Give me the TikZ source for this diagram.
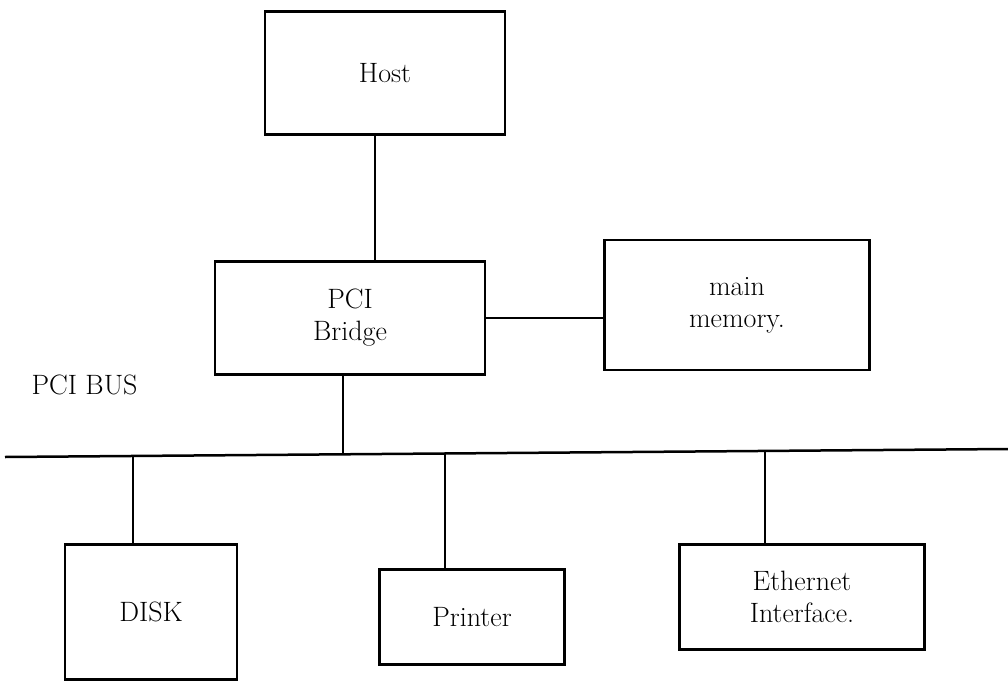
\documentclass[tikz,border=0pt]{standalone}
\begin{document}
\begin{tikzpicture}[x=1pt,y=-1pt,
  box/.style={draw, line width=2.5pt, rectangle, align=center, font=\fontsize{28}{32}\selectfont, inner sep=0pt},
  wire/.style={line width=2.5pt}]
\useasboundingbox (0,0) rectangle (1008,682);
\node[box, minimum width=240, minimum height=123] (host) at (385,73) {Host};
\node[box, minimum width=270, minimum height=113] (bridge) at (350,318) {PCI\\Bridge};
\node[box, minimum width=265, minimum height=130] (mem) at (737,305) {main\\memory.};
\node[box, minimum width=172, minimum height=135] (disk) at (151,612) {DISK};
\node[box, minimum width=185, minimum height=95] (printer) at (472,617) {Printer};
\node[box, minimum width=245, minimum height=105] (eth) at (802,597) {Ethernet\\Interface.};
\node[font=\fontsize{28}{32}\selectfont, anchor=west] (buslabel) at (28,385) {PCI BUS};
\coordinate (busL) at (5,457);
\coordinate (busR) at (1008,449);
\draw[wire] (busL) -- (busR);
\draw[wire] (host.south -| 375,0) -- (bridge.north -| 375,0);
\draw[wire] (bridge.east) -- (mem.west |- bridge.east);
\coordinate (b0) at (343,454);
\coordinate (b1) at (133,456);
\coordinate (b2) at (445,454);
\coordinate (b3) at (765,451);
\draw[wire] (bridge.south -| b0) -- (b0);
\draw[wire] (b1) -- (disk.north -| b1);
\draw[wire] (b2) -- (printer.north -| b2);
\draw[wire] (b3) -- (eth.north -| b3);
\end{tikzpicture}
\end{document}
